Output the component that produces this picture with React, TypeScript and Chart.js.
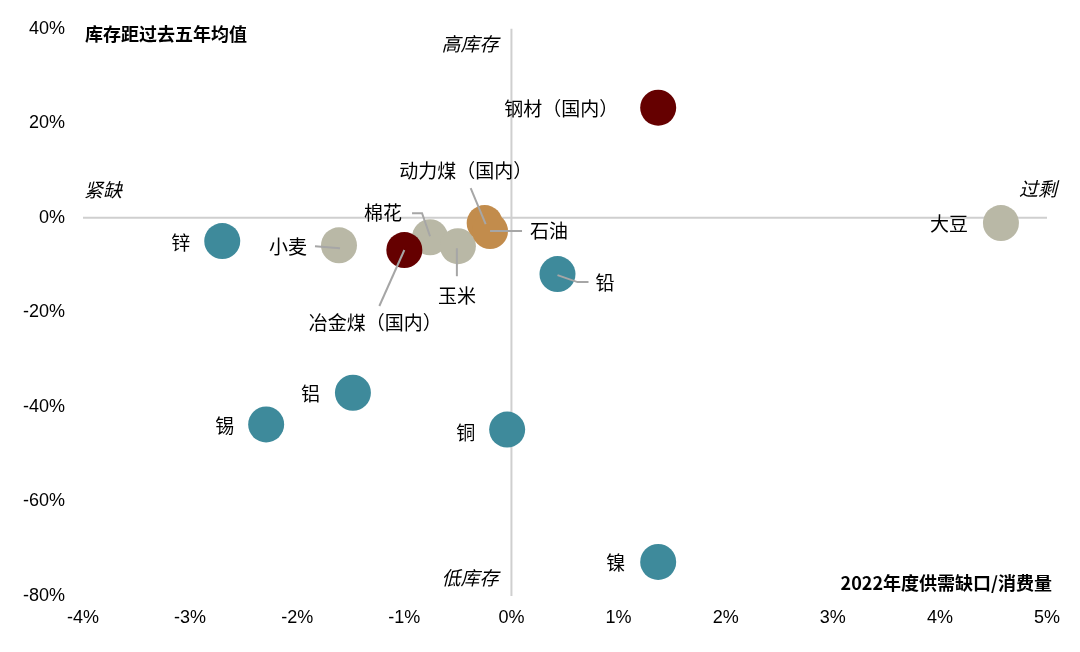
import React, { useEffect, useRef } from 'react';
import { Chart, registerables } from 'chart.js';

Chart.register(...registerables);

// ---------- data ----------
const commodities = ['钢材（国内）', '大豆', '锌', '小麦', '棉花', '玉米', '冶金煤（国内）', '动力煤（国内）', '石油', '铅', '铝', '锡', '铜', '镍'];
const supplyGapPct = [1.37, 4.57, -2.70, -1.61, -0.76, -0.50, -1.00, -0.25, -0.20, 0.43, -1.48, -2.29, -0.04, 1.37];
const inventoryDevPct = [23.3, -1.1, -4.9, -5.8, -4.1, -6.0, -6.8, -1.1, -2.8, -11.9, -37.0, -43.7, -44.8, -72.8];
const sectors = ['黑色', '农产品', '有色', '农产品', '农产品', '农产品', '黑色', '能源', '能源', '有色', '有色', '有色', '有色', '有色'];

const xRange = [-4, 5];
const yRange = [-80, 40];
const xStep = 1;
const yStep = 20;

const yTitle = '库存距过去五年均值';
const xTitle = '2022年度供需缺口/消费量';
const quadrantLabels = { top: '高库存', bottom: '低库存', left: '紧缺', right: '过剩' };

// ---------- styles ----------
const sectorColors: Record<string, string> = {
  '黑色': '#650000',
  '农产品': '#b9b8a6',
  '有色': '#3e8a9b',
  '能源': '#c28c4c',
};

const CJK = '"Noto Sans CJK SC", "Noto Sans", sans-serif';
const LATIN = '"Liberation Sans", Arial, sans-serif';

type Layout = { dx: number; dy: number; align: CanvasTextAlign; leader?: number[][] };
const LABEL_LAYOUT: Record<string, Layout> = {
  '钢材（国内）': { dx: -40, dy: 1, align: 'right' },
  '大豆': { dx: -33, dy: 1, align: 'right' },
  '锌': { dx: -32, dy: 2, align: 'right' },
  '小麦': { dx: -32, dy: 1, align: 'right', leader: [[-24, 1], [1, 3]] },
  '棉花': { dx: -28, dy: -24, align: 'right', leader: [[-18, -24], [-8, -24], [0, -1]] },
  '玉米': { dx: -1, dy: 50, align: 'center', leader: [[-1, 30], [-1, 2]] },
  '冶金煤（国内）': { dx: -29, dy: 73, align: 'center', leader: [[-25, 56], [0, 0]] },
  '动力煤（国内）': { dx: -19, dy: -52, align: 'center', leader: [[-14, -35], [1, 1]] },
  '石油': { dx: 40, dy: 0, align: 'left', leader: [[0, 0], [32, 0]] },
  '铅': { dx: 38, dy: 9, align: 'left', leader: [[0, 1], [20, 8], [31, 8]] },
  '铝': { dx: -33, dy: 1, align: 'right' },
  '锡': { dx: -32, dy: 1, align: 'right' },
  '铜': { dx: -32, dy: 3, align: 'right' },
  '镍': { dx: -33, dy: 1, align: 'right' },
};

const zeroLinesPlugin = {
  id: 'zeroLines',
  beforeDatasetsDraw(chart: any) {
    const { ctx, chartArea, scales } = chart;
    const x0 = scales.x.getPixelForValue(0);
    const y0 = scales.y.getPixelForValue(0);
    ctx.save();
    ctx.strokeStyle = '#cfcfcf';
    ctx.lineWidth = 2;
    ctx.beginPath();
    ctx.moveTo(x0, chartArea.top);
    ctx.lineTo(x0, chartArea.bottom);
    ctx.moveTo(chartArea.left, y0);
    ctx.lineTo(chartArea.right, y0);
    ctx.stroke();
    ctx.restore();
  },
};

const labelsPlugin = {
  id: 'pointLabels',
  afterDatasetsDraw(chart: any) {
    const { ctx } = chart;
    const els = chart.getDatasetMeta(0).data;
    ctx.save();
    ctx.strokeStyle = '#a6a6a6';
    ctx.lineWidth = 2;
    commodities.forEach((name, i) => {
      const lay = LABEL_LAYOUT[name];
      const el = els[i];
      if (!lay || !el || !lay.leader) return;
      ctx.beginPath();
      lay.leader.forEach(([dx, dy], k) => {
        if (k === 0) ctx.moveTo(el.x + dx, el.y + dy);
        else ctx.lineTo(el.x + dx, el.y + dy);
      });
      ctx.stroke();
    });
    ctx.fillStyle = '#000';
    ctx.font = `19px ${CJK}`;
    ctx.textBaseline = 'middle';
    commodities.forEach((name, i) => {
      const lay = LABEL_LAYOUT[name];
      const el = els[i];
      if (!lay || !el) return;
      ctx.textAlign = lay.align;
      ctx.fillText(name, el.x + lay.dx, el.y + lay.dy);
    });
    ctx.restore();
  },
};

const annotationsPlugin = {
  id: 'annotations',
  afterDraw(chart: any) {
    const { ctx, chartArea, scales } = chart;
    const x0 = scales.x.getPixelForValue(0);
    const y0 = scales.y.getPixelForValue(0);
    ctx.save();
    ctx.fillStyle = '#000';
    ctx.textBaseline = 'middle';
    ctx.font = `bold 18px ${CJK}`;
    ctx.textAlign = 'left';
    ctx.fillText(yTitle, chartArea.left + 2, chartArea.top + 5);
    ctx.textAlign = 'right';
    ctx.fillText(xTitle, chartArea.right + 5, chartArea.bottom - 13);

    ctx.font = `italic 19px ${CJK}`;
    ctx.textAlign = 'right';
    ctx.fillText(quadrantLabels.top, x0 - 13, chartArea.top + 15);
    ctx.fillText(quadrantLabels.bottom, x0 - 13, chartArea.bottom - 18);
    ctx.textAlign = 'left';
    ctx.fillText(quadrantLabels.left, chartArea.left + 1, y0 - 28);
    ctx.textAlign = 'right';
    ctx.fillText(quadrantLabels.right, chartArea.right + 10, y0 - 29);
    ctx.restore();
  },
};

export default function App() {
  const canvasRef = useRef<HTMLCanvasElement | null>(null);

  useEffect(() => {
    const canvas = canvasRef.current;
    if (!canvas) return;
    const data = commodities.map((_, i) => ({ x: supplyGapPct[i], y: inventoryDevPct[i] }));
    const chart = new Chart(canvas, {
      type: 'scatter',
      data: {
        datasets: [
          {
            data,
            backgroundColor: sectors.map((s) => sectorColors[s]),
            borderWidth: 0,
            pointRadius: 18,
            pointHoverRadius: 18,
          },
        ],
      },
      options: {
        animation: false,
        responsive: false,
        devicePixelRatio: 1,
        events: [],
        layout: { padding: { top: 27, right: 33, left: 0, bottom: 0 } },
        plugins: {
          legend: { display: false },
          tooltip: { enabled: false },
        },
        scales: {
          x: {
            type: 'linear',
            min: xRange[0],
            max: xRange[1],
            grid: { display: false, drawTicks: false },
            border: { display: false },
            ticks: {
              stepSize: xStep,
              padding: 11,
              color: '#000',
              font: { family: LATIN, size: 18 },
              callback: (v: any) => `${v}%`,
            },
            afterFit: (s: any) => {
              s.height = 56;
            },
          },
          y: {
            type: 'linear',
            min: yRange[0],
            max: yRange[1],
            grid: { display: false, drawTicks: false },
            border: { display: false },
            ticks: {
              stepSize: yStep,
              padding: 18,
              color: '#000',
              font: { family: LATIN, size: 18 },
              callback: (v: any) => `${v}%`,
            },
            afterFit: (s: any) => {
              s.width = 83;
            },
          },
        },
      },
      plugins: [zeroLinesPlugin, labelsPlugin, annotationsPlugin],
    });
    return () => chart.destroy();
  }, []);

  return (
    <div style={{ position: 'absolute', left: 0, top: 0, width: 1080, height: 652, background: '#fff' }}>
      <canvas ref={canvasRef} width={1080} height={652} style={{ display: 'block', width: 1080, height: 652 }} />
    </div>
  );
}
